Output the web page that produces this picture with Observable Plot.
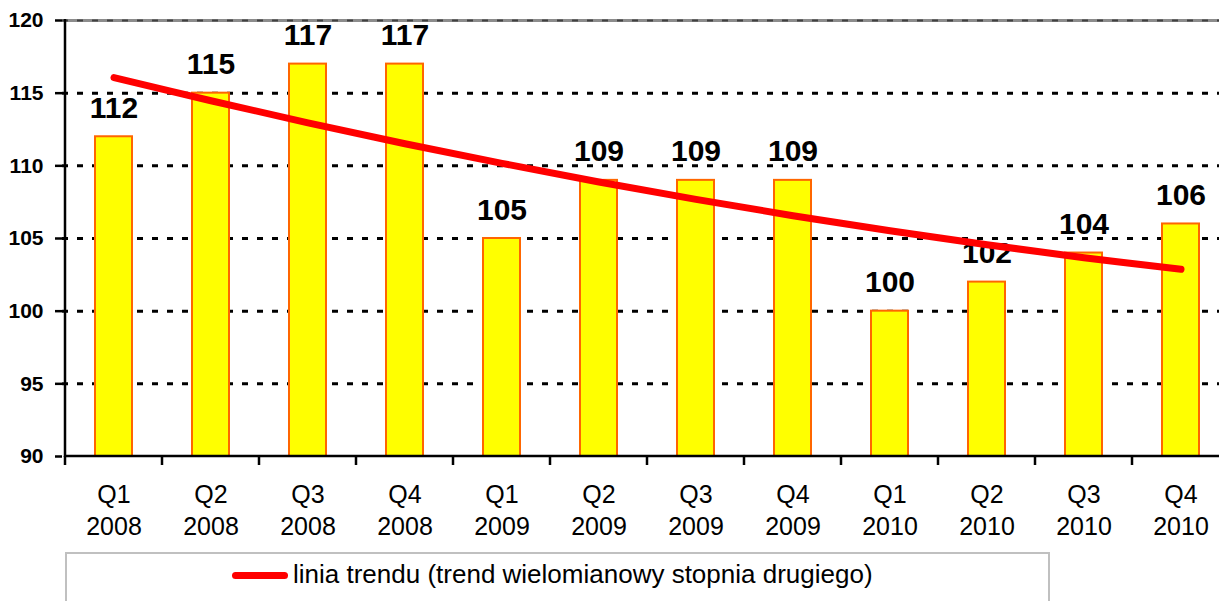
<!DOCTYPE html>
<html>
<head>
<meta charset="utf-8">
<script src="https://cdn.jsdelivr.net/npm/d3@7"></script>
<script src="https://cdn.jsdelivr.net/npm/@observablehq/plot@0.6"></script>
<style>
  html, body { margin: 0; padding: 0; background: #fff; overflow: hidden; }
  #wrap { position: relative; width: 1231px; height: 601px; font-family: "Liberation Sans", Arial, sans-serif; }
  #legend { position: absolute; left: 65px; top: 552px; width: 985px; height: 70px; border: 2px solid #c0c0c0; box-sizing: border-box; background: #fff; }
  #legend .sw { position: absolute; left: 165px; top: 18px; width: 56px; height: 7px; border-radius: 4px; background: #ff0000; }
  #legend .lb { position: absolute; left: 226px; top: 5px; font-size: 26px; line-height: 30px; color: #000; white-space: nowrap; }
</style>
</head>
<body>
<div id="wrap">
  <div id="chart"></div>
  <div id="legend"><div class="sw"></div><div class="lb" id="legendText"></div></div>
</div>
<script>
const quarters = ["Q1","Q2","Q3","Q4","Q1","Q2","Q3","Q4","Q1","Q2","Q3","Q4"];
const years = ["2008","2008","2008","2008","2009","2009","2009","2009","2010","2010","2010","2010"];
const values = [112,115,117,117,105,109,109,109,100,102,104,106];
const trend = [116.07,114.48,112.96,111.52,110.17,108.89,107.69,106.57,105.53,104.57,103.68,102.88];
const yTicks = [90,95,100,105,110,115,120];
const gridLevels = [95,100,105,110,115];
const legendLabel = "linia trendu (trend wielomianowy stopnia drugiego)";

const categories = quarters.map((q, i) => q + "\n" + years[i]);
const data = categories.map((c, i) => ({cat: c, value: values[i], trend: trend[i]}));

document.getElementById("legendText").textContent = legendLabel;

const font = "Liberation Sans, Arial, sans-serif";

// axis lines + category boundary ticks, positioned through the scales
const axisLines = (index, scales) => {
  const x = scales.x, y = scales.y;
  const g = d3.create("svg:g").attr("stroke", "#000").attr("stroke-width", 2.5);
  const step = x.step ? x.step() : x.bandwidth();
  const bw = x.bandwidth();
  const y0 = y(90), yTop = y(120);
  const xLeft = x(categories[0]) - (step - bw) / 2;
  const xRight = x(categories[categories.length - 1]) + bw + (step - bw) / 2;
  g.append("line").attr("x1", xLeft).attr("x2", xLeft).attr("y1", yTop - 1).attr("y2", y0 + 1);
  g.append("line").attr("x1", xLeft - 1).attr("x2", xRight).attr("y1", y0).attr("y2", y0);
  categories.forEach(c => {
    const px = x(c) - (step - bw) / 2;
    g.append("line").attr("x1", px).attr("x2", px).attr("y1", y0).attr("y2", y0 + 9);
  });
  return g.node();
};

const chart = Plot.plot({
  width: 1231,
  height: 550,
  marginTop: 20,
  marginBottom: 94,
  marginLeft: 62,
  marginRight: 0,
  style: {fontFamily: font, background: "#fff", overflow: "visible"},
  x: {domain: categories, paddingInner: 0.62, paddingOuter: 0.31, label: null},
  y: {domain: [90, 120], label: null},
  marks: [
    Plot.ruleY([120], {stroke: "#8c8c8c", strokeWidth: 3}),
    Plot.ruleY([120], {stroke: "#404040", strokeWidth: 2, strokeDasharray: "6,9"}),
    Plot.ruleY(gridLevels, {stroke: "#000", strokeWidth: 3, strokeDasharray: "6,9"}),
    Plot.barY(data, {x: "cat", y1: 90, y2: "value", fill: "#ffff00", stroke: "#ff6600", strokeWidth: 2}),
    Plot.text(data, {x: "cat", y: "value", text: d => String(d.value), lineAnchor: "bottom", dy: -19,
      fontSize: 30, fontWeight: "bold", fill: "#000"}),
    Plot.line(data, {x: "cat", y: "trend", stroke: "#ff0000", strokeWidth: 7, curve: "catmull-rom", strokeLinecap: "round"}),
    Plot.axisY({ticks: yTicks, tickSize: 7, tickPadding: 12, fontSize: 21, fontWeight: "bold", stroke: "#000", strokeWidth: 2.5, tickFormat: d => String(d), fill: "#000"}),
    Plot.axisX({tickSize: 0, tickPadding: 24, fontSize: 25, lineHeight: 1.28, fill: "#000", lineAnchor: "top"}),
    axisLines
  ]
});
document.getElementById("chart").appendChild(chart);
</script>
</body>
</html>
